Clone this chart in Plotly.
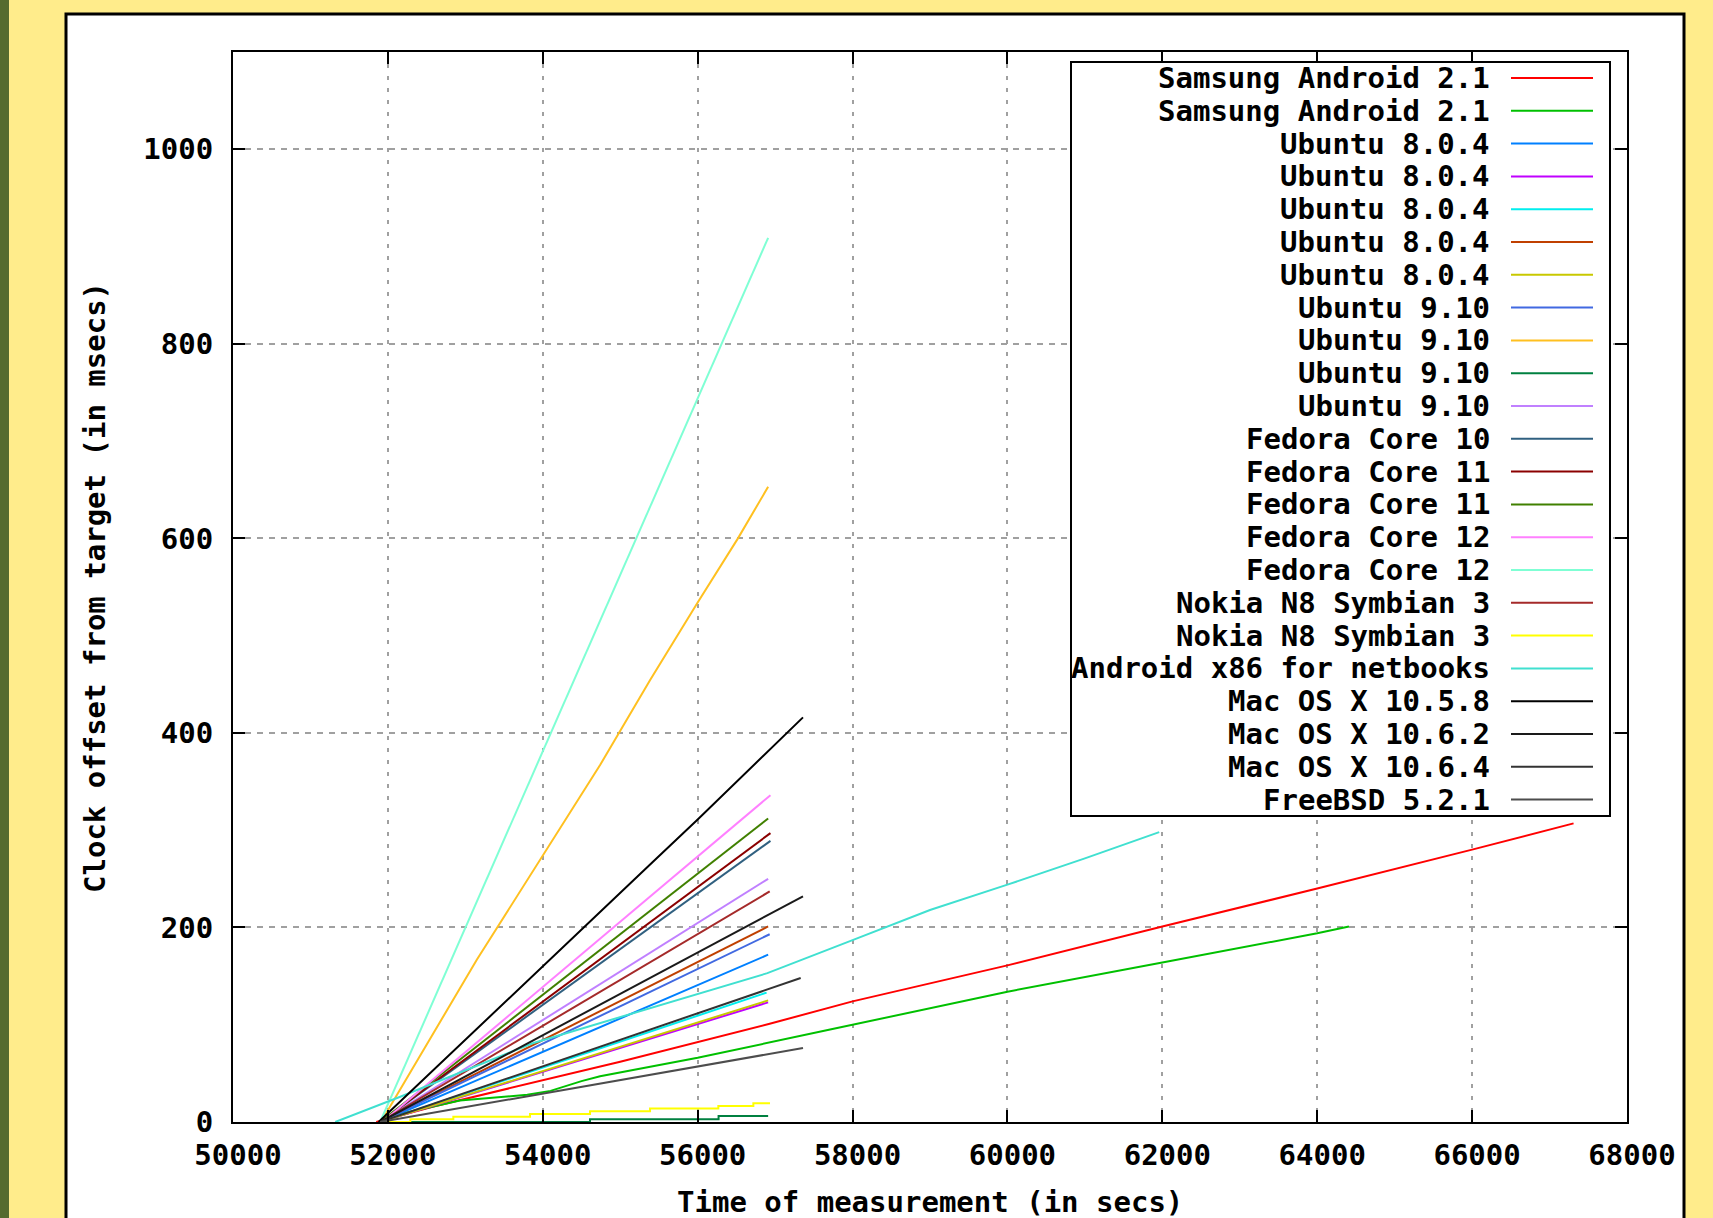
import plotly.graph_objects as go

# ---------------- data ----------------
labels = [
    "Samsung Android 2.1", "Samsung Android 2.1",
    "Ubuntu 8.0.4", "Ubuntu 8.0.4", "Ubuntu 8.0.4", "Ubuntu 8.0.4", "Ubuntu 8.0.4",
    "Ubuntu 9.10", "Ubuntu 9.10", "Ubuntu 9.10", "Ubuntu 9.10",
    "Fedora Core 10", "Fedora Core 11", "Fedora Core 11",
    "Fedora Core 12", "Fedora Core 12",
    "Nokia N8 Symbian 3", "Nokia N8 Symbian 3",
    "Android x86 for netbooks",
    "Mac OS X 10.5.8", "Mac OS X 10.6.2", "Mac OS X 10.6.4",
    "FreeBSD 5.2.1",
]

s01_x = [51850, 52590, 55000, 56930, 58000, 60000, 62000, 64000, 66000, 67310]
s01_y = [0, 16, 62, 101, 124, 161, 201, 240, 280, 307]
s02_x = [51900, 52200, 52930, 53800, 54100, 54500, 54740, 56000, 57710, 60000, 62000, 64000, 64410]
s02_y = [0, 9, 22, 28, 32, 42, 47, 66, 95, 134, 164, 194, 201]
s03_x = [51900, 56910]
s03_y = [0, 172]
s04_x = [51900, 56910]
s04_y = [0, 123]
s05_x = [51900, 56890]
s05_y = [0, 133]
s06_x = [51900, 56910]
s06_y = [0, 201]
s07_x = [51900, 56910]
s07_y = [0, 125]
s08_x = [51900, 56930]
s08_y = [0, 193]
s09_x = [51910, 53150, 54740, 55390, 56000, 56520, 56910]
s09_y = [0, 167, 367, 455, 534, 600, 653]
s10_x = [51900, 54610, 56270, 56910]
s10_y = [0, 2.7, 6.2, 6.2]
s11_x = [51900, 56910]
s11_y = [0, 250]
s12_x = [51900, 56940]
s12_y = [0, 289]
s13_x = [51900, 56940]
s13_y = [0, 297]
s14_x = [51900, 56910]
s14_y = [0, 312]
s15_x = [51930, 56000, 56940]
s15_y = [0, 273, 336]
s16_x = [51900, 55210, 56310, 56910]
s16_y = [0, 600, 800, 909]
s17_x = [51900, 56930]
s17_y = [0, 237]
s18_x = [51950, 52290, 52845, 53835, 54610, 55385, 56267, 56719, 56934]
s18_y = [0, 2.7, 5.5, 8.2, 11, 14, 16.5, 19.2, 19.2]
s19_x = [51320, 52160, 53870, 56900, 58000, 59000, 60000, 61000, 61960]
s19_y = [0, 26, 81, 153, 187, 218, 244, 271, 298]
s20_x = [51880, 53530, 55430, 56000, 57360]
s20_y = [0, 125, 268, 311, 416]
s21_x = [51900, 57360]
s21_y = [0, 232]
s22_x = [51900, 57330]
s22_y = [0, 148]
s23_x = [51900, 57360]
s23_y = [0, 76]

series_x = [s01_x, s02_x, s03_x, s04_x, s05_x, s06_x, s07_x, s08_x, s09_x, s10_x, s11_x, s12_x,
            s13_x, s14_x, s15_x, s16_x, s17_x, s18_x, s19_x, s20_x, s21_x, s22_x, s23_x]
series_y = [s01_y, s02_y, s03_y, s04_y, s05_y, s06_y, s07_y, s08_y, s09_y, s10_y, s11_y, s12_y,
            s13_y, s14_y, s15_y, s16_y, s17_y, s18_y, s19_y, s20_y, s21_y, s22_y, s23_y]
step_series = {9, 17}  # indices drawn as staircases

x_ticks = [50000, 52000, 54000, 56000, 58000, 60000, 62000, 64000, 66000, 68000]
y_ticks = [0, 200, 400, 600, 800, 1000]

# ---------------- styles ----------------
colors = ["#ff0000", "#00c000", "#0080ff", "#c000ff", "#00eeee", "#c04000", "#c8c800",
          "#4169e1", "#ffc020", "#008040", "#c080ff", "#306080", "#8b0000", "#408000",
          "#ff80ff", "#7fffd4", "#a52a2a", "#ffff00", "#40e0d0", "#000000", "#1a1a1a",
          "#333333", "#4d4d4d"]

W, H = 1713, 1218
L, R, T, B = 233, 86, 52, 96
PW, PH = W - L - R, H - T - B
FONT = dict(family="DejaVu Sans Mono", size=29, color="black", weight="bold")


def px(x):
    return (x - L) / PW


def py(y):
    return (H - B - y) / PH


fig = go.Figure()
for i, (xs, ys) in enumerate(zip(series_x, series_y)):
    fig.add_trace(go.Scatter(
        x=xs, y=ys, mode="lines", name=labels[i], showlegend=False,
        line=dict(color=colors[i], width=2, shape="hv" if i in step_series else "linear"),
    ))

shapes = [
    dict(type="rect", xref="paper", yref="paper", x0=px(0), x1=px(9), y0=py(1230), y1=py(-10),
         fillcolor="#556B2F", line=dict(width=0), layer="below"),
    dict(type="rect", xref="paper", yref="paper", x0=px(66), x1=px(1684), y0=py(1240), y1=py(14),
         fillcolor="white", line=dict(color="black", width=3), layer="below"),
    dict(type="rect", xref="paper", yref="paper", x0=px(1071), x1=px(1610), y0=py(816), y1=py(62),
         fillcolor="white", line=dict(color="black", width=2), layer="above"),
]
annotations = []
row0, row_step = 78.0, 32.8
for i, lab in enumerate(labels):
    ry = row0 + i * row_step
    shapes.append(dict(type="line", xref="paper", yref="paper", x0=px(1511), x1=px(1593),
                       y0=py(ry), y1=py(ry), line=dict(color=colors[i], width=2), layer="above"))
    annotations.append(dict(xref="paper", yref="paper", x=px(1492), y=py(ry), text=lab,
                            xanchor="right", yanchor="middle", showarrow=False, font=FONT))

annotations.append(dict(xref="paper", yref="paper", x=px(930), y=py(1202),
                        text="Time of measurement (in secs)", xanchor="center", yanchor="middle",
                        showarrow=False, font=FONT))
annotations.append(dict(xref="paper", yref="paper", x=px(95), y=py(588),
                        text="Clock offset from target (in msecs)", xanchor="center",
                        yanchor="middle", textangle=-90, showarrow=False, font=FONT))

axis_common = dict(
    showline=True, linecolor="black", linewidth=2, mirror="ticks",
    ticks="inside", ticklen=12, tickwidth=2, tickcolor="black",
    showgrid=True, gridcolor="#a0a0a0", gridwidth=2, zeroline=False,
    tickfont=FONT, tickformat="d",
)

fig.update_layout(
    width=W, height=H, autosize=False,
    margin=dict(l=L, r=R, t=T, b=B),
    paper_bgcolor="#FFEC8B", plot_bgcolor="white",
    shapes=shapes, annotations=annotations, showlegend=False,
    xaxis=dict(range=[50000, 68000], tickvals=x_ticks, griddash="4px,8px",
               ticklabelstandoff=6, ticklabelshift=5, **axis_common),
    yaxis=dict(range=[0, 1100], tickvals=y_ticks, griddash="6px,6px",
               ticklabelstandoff=12, **axis_common),
)

fig.write_html("out.html", config={"displayModeBar": False},
               post_script="document.body.style.margin='0';document.body.style.overflow='hidden';")
